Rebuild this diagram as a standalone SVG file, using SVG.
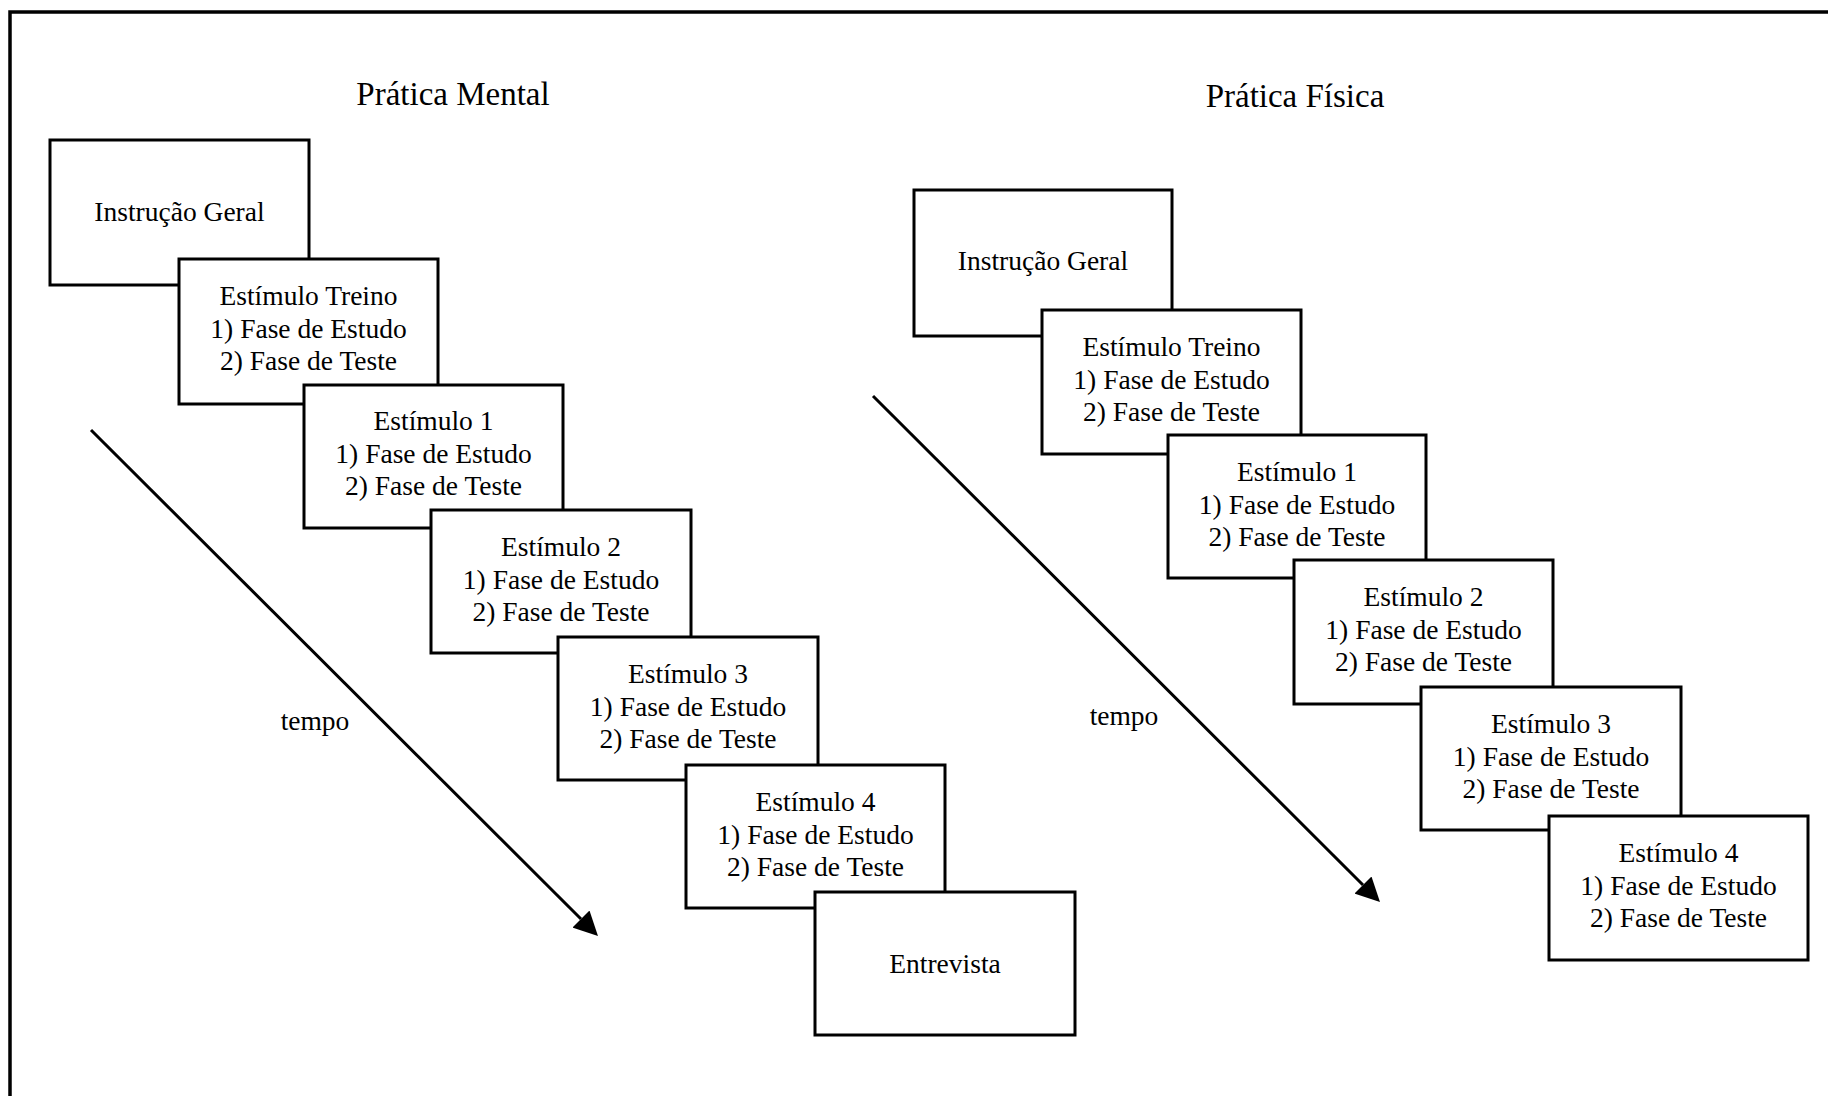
<svg xmlns="http://www.w3.org/2000/svg" width="1828" height="1096" viewBox="0 0 1828 1096">
  <style>
    .box { fill: #ffffff; stroke: #000000; stroke-width: 3; }
    .t { font-family: "Liberation Serif", "Times New Roman", serif; font-size: 27.5px; fill: #000000; text-anchor: middle; }
    .title { font-family: "Liberation Serif", "Times New Roman", serif; font-size: 33px; fill: #000000; text-anchor: middle; }
    .conn { stroke: #000000; stroke-width: 3; fill: none; }
  </style>
  <defs>
    <marker id="arrow" viewBox="0 0 24 24" markerWidth="24" markerHeight="24" refX="0" refY="12" orient="auto" markerUnits="userSpaceOnUse">
      <path d="M0,0 L24,12 L0,24 z" fill="#000000"/>
    </marker>
  </defs>
  <rect x="0" y="0" width="1828" height="1096" fill="#ffffff"/>
  <path d="M10,1100 V12 H1830" fill="none" stroke="#000000" stroke-width="3.5"/>

  <text class="title" x="453" y="105">Prática Mental</text>
  <text class="title" x="1295" y="107">Prática Física</text>

  <g id="connectors">
    <line class="conn" x1="91" y1="430" x2="581" y2="919" marker-end="url(#arrow)"/>
    <line class="conn" x1="873" y1="396" x2="1363" y2="885" marker-end="url(#arrow)"/>
    <text class="t" x="315" y="730">tempo</text>
    <text class="t" x="1124" y="725">tempo</text>
  </g>

  <!-- Prática Mental -->
  <g id="m-instrucao">
    <rect class="box" x="50" y="140" width="259" height="145"/>
    <text class="t" x="179.5" y="221">Instrução Geral</text>
  </g>
  <g id="m-treino">
    <rect class="box" x="179" y="259" width="259" height="145"/>
    <text class="t" x="308.5" y="305">Estímulo Treino</text>
    <text class="t" x="308.5" y="338">1) Fase de Estudo</text>
    <text class="t" x="308.5" y="370">2) Fase de Teste</text>
  </g>
  <g id="m-est1">
    <rect class="box" x="304" y="385" width="259" height="143"/>
    <text class="t" x="433.5" y="430">Estímulo 1</text>
    <text class="t" x="433.5" y="463">1) Fase de Estudo</text>
    <text class="t" x="433.5" y="495">2) Fase de Teste</text>
  </g>
  <g id="m-est2">
    <rect class="box" x="431" y="510" width="260" height="143"/>
    <text class="t" x="561" y="556">Estímulo 2</text>
    <text class="t" x="561" y="589">1) Fase de Estudo</text>
    <text class="t" x="561" y="621">2) Fase de Teste</text>
  </g>
  <g id="m-est3">
    <rect class="box" x="558" y="637" width="260" height="143"/>
    <text class="t" x="688" y="683">Estímulo 3</text>
    <text class="t" x="688" y="716">1) Fase de Estudo</text>
    <text class="t" x="688" y="748">2) Fase de Teste</text>
  </g>
  <g id="m-est4">
    <rect class="box" x="686" y="765" width="259" height="143"/>
    <text class="t" x="815.5" y="811">Estímulo 4</text>
    <text class="t" x="815.5" y="844">1) Fase de Estudo</text>
    <text class="t" x="815.5" y="876">2) Fase de Teste</text>
  </g>
  <g id="m-entrevista">
    <rect class="box" x="815" y="892" width="260" height="143"/>
    <text class="t" x="945" y="973">Entrevista</text>
  </g>

  <!-- Prática Física -->
  <g id="f-instrucao">
    <rect class="box" x="914" y="190" width="258" height="146"/>
    <text class="t" x="1043" y="270">Instrução Geral</text>
  </g>
  <g id="f-treino">
    <rect class="box" x="1042" y="310" width="259" height="144"/>
    <text class="t" x="1171.5" y="356">Estímulo Treino</text>
    <text class="t" x="1171.5" y="389">1) Fase de Estudo</text>
    <text class="t" x="1171.5" y="421">2) Fase de Teste</text>
  </g>
  <g id="f-est1">
    <rect class="box" x="1168" y="435" width="258" height="143"/>
    <text class="t" x="1297" y="481">Estímulo 1</text>
    <text class="t" x="1297" y="514">1) Fase de Estudo</text>
    <text class="t" x="1297" y="546">2) Fase de Teste</text>
  </g>
  <g id="f-est2">
    <rect class="box" x="1294" y="560" width="259" height="144"/>
    <text class="t" x="1423.5" y="606">Estímulo 2</text>
    <text class="t" x="1423.5" y="639">1) Fase de Estudo</text>
    <text class="t" x="1423.5" y="671">2) Fase de Teste</text>
  </g>
  <g id="f-est3">
    <rect class="box" x="1421" y="687" width="260" height="143"/>
    <text class="t" x="1551" y="733">Estímulo 3</text>
    <text class="t" x="1551" y="766">1) Fase de Estudo</text>
    <text class="t" x="1551" y="798">2) Fase de Teste</text>
  </g>
  <g id="f-est4">
    <rect class="box" x="1549" y="816" width="259" height="144"/>
    <text class="t" x="1678.5" y="862">Estímulo 4</text>
    <text class="t" x="1678.5" y="895">1) Fase de Estudo</text>
    <text class="t" x="1678.5" y="927">2) Fase de Teste</text>
  </g>
</svg>
